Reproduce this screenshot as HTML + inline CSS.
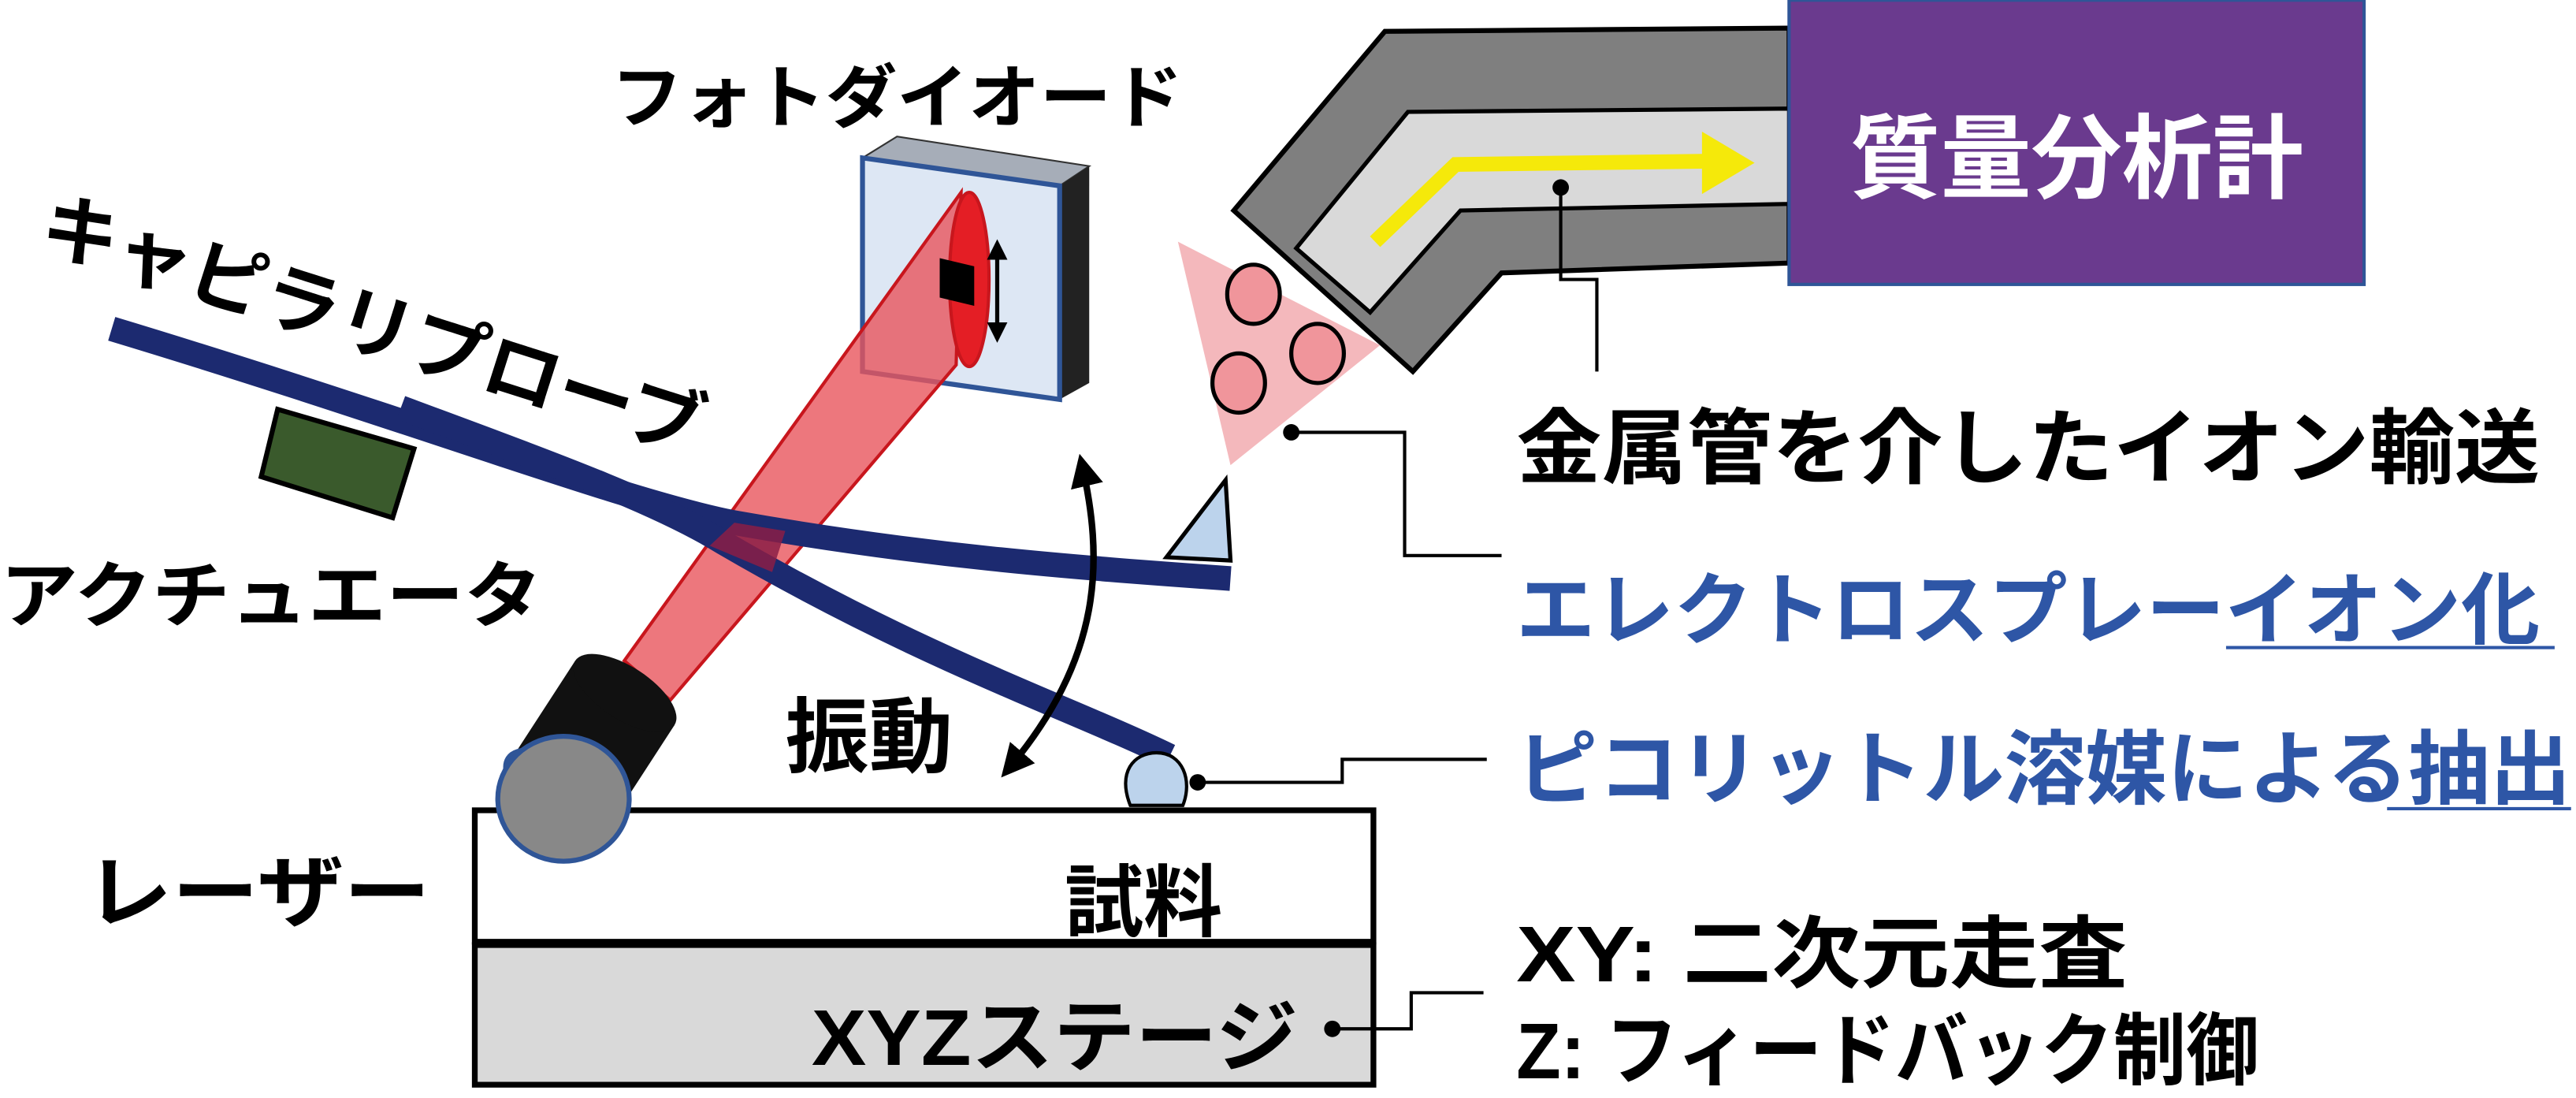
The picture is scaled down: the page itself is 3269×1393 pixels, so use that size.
<!DOCTYPE html>
<html><head><meta charset="utf-8"><style>
html,body{margin:0;padding:0;background:#fff;}
svg{display:block;}
text{font-family:"Liberation Sans","Noto Sans CJK JP",sans-serif;font-weight:bold;}
</style></head><body>
<svg width="3269" height="1393" viewBox="0 0 1568 668" xmlns="http://www.w3.org/2000/svg">
<defs>
<marker id="ah" viewBox="0 0 10 10" refX="8" refY="5" markerWidth="5" markerHeight="5" orient="auto-start-reverse"><path d="M0,0 L10,5 L0,10 z" fill="#000"/></marker>
</defs>
<!-- metal tube -->
<polygon points="843,19 1089,17 1089,160 914,166 860,226 751,128" fill="#7f7f7f" stroke="#000" stroke-width="3"/>
<polygon points="857,68 1089,66 1089,124 889,128 834,190 789,151" fill="#d9d9d9" stroke="#000" stroke-width="2.5"/>
<polyline points="837,147 886,100 1040,98" fill="none" stroke="#f5e90a" stroke-width="9"/>
<polygon points="1036,80 1068,99 1036,118" fill="#f5e90a"/>
<!-- mass spec -->
<rect x="1089" y="0" width="350" height="173" fill="#6a3a8e" stroke="#2f5597" stroke-width="2"/>
<text x="1264" y="116" font-size="56" fill="#fff" text-anchor="middle" textLength="276" lengthAdjust="spacingAndGlyphs">質量分析計</text>
<!-- plume -->
<polygon points="717,147 840,210 749,283" fill="#f4b8bc"/>
<ellipse cx="763" cy="179" rx="16" ry="18" fill="#f0959b" stroke="#000" stroke-width="2.5"/>
<ellipse cx="802" cy="215" rx="16" ry="18" fill="#f0959b" stroke="#000" stroke-width="2.5"/>
<ellipse cx="754" cy="233" rx="16" ry="18" fill="#f0959b" stroke="#000" stroke-width="2.5"/>
<!-- photodiode -->
<polygon points="525,96 546,83 663,101 645,113" fill="#a6adb8" stroke="#333" stroke-width="1"/>
<polygon points="645,113 663,101 663,233 645,243" fill="#222"/>
<polygon points="525,96 645,113 645,243 525,226" fill="#dde7f4" stroke="#2f5597" stroke-width="3"/>
<!-- beam -->
<polygon points="380,402 585,117 582,222 408,426" fill="#e8555c" fill-opacity="0.8" stroke="#c8161d" stroke-width="2"/>
<ellipse cx="590" cy="170" rx="12" ry="53" fill="#e41e25" stroke="#c8161d" stroke-width="2"/>
<polygon points="572,157 593,162 593,186 572,181" fill="#000"/>
<line x1="607" y1="148" x2="607" y2="206" stroke="#000" stroke-width="2.5" marker-start="url(#ah)" marker-end="url(#ah)"/>
<!-- actuator -->
<polygon points="169,249 252,273 239,315 159,290" fill="#3a5a2c" stroke="#000" stroke-width="3"/>
<!-- probes -->
<path d="M68,200 C250,255 380,305 447,318 C560,338 650,345 749,352" fill="none" stroke="#1c2a70" stroke-width="15"/>
<path d="M244,248 C330,280 400,305 440,330 C560,400 650,430 712,460" fill="none" stroke="#1c2a70" stroke-width="15"/>
<polygon points="447,318 478,323 470,348 432,332" fill="#8a1d45" fill-opacity="0.85"/>
<polygon points="710,339 746,292 749,341" fill="#bcd3ec" stroke="#000" stroke-width="2.5"/>
<!-- droplet -->
<path d="M688,490 C680,470 690,458 704,458 C720,458 726,475 720,490 z" fill="#bcd3ec" stroke="#000" stroke-width="2"/>
<!-- sample & stage -->
<rect x="289" y="493" width="547" height="80" fill="#fff" stroke="#000" stroke-width="3.5"/>
<rect x="289" y="575" width="547" height="85" fill="#d9d9d9" stroke="#000" stroke-width="3.5"/>
<text x="696" y="566" font-size="48" text-anchor="middle">試料</text>
<text x="642" y="648" font-size="48" text-anchor="middle" textLength="296" lengthAdjust="spacingAndGlyphs">XYZステージ</text>
<!-- laser -->
<g transform="rotate(33 358 456)">
<rect x="322" y="415" width="72" height="72" fill="#111"/>
<ellipse cx="358" cy="415" rx="36" ry="16" fill="#111"/>
<ellipse cx="358" cy="487" rx="38" ry="18" fill="#888" stroke="#2f5597" stroke-width="3"/>
</g>
<ellipse cx="343" cy="486" rx="40" ry="38" fill="#888" stroke="#2f5597" stroke-width="3"/>
<!-- vibration arrow -->
<path d="M658,280 C672,340 672,400 612,470" fill="none" stroke="#000" stroke-width="4" marker-start="url(#ah)" marker-end="url(#ah)"/>
<!-- labels -->
<text x="372" y="74" font-size="42" textLength="348" lengthAdjust="spacingAndGlyphs">フォトダイオード</text>
<text transform="translate(22,150) rotate(17.6)" font-size="46" textLength="420" lengthAdjust="spacingAndGlyphs">キャピラリプローブ</text>
<text x="0" y="378" font-size="44" textLength="330" lengthAdjust="spacingAndGlyphs">アクチュエータ</text>
<text x="478" y="466" font-size="50" textLength="102" lengthAdjust="spacingAndGlyphs">振動</text>
<text x="52" y="560" font-size="48" textLength="210" lengthAdjust="spacingAndGlyphs">レーザー</text>
<text x="923" y="290" font-size="50" textLength="623" lengthAdjust="spacingAndGlyphs">金属管を介したイオン輸送</text>
<text x="923" y="388" font-size="48" fill="#2e56a6" textLength="623" lengthAdjust="spacingAndGlyphs">エレクトロスプレーイオン化</text>
<line x1="1355" y1="394" x2="1555" y2="394" stroke="#2e56a6" stroke-width="2"/>
<text x="923" y="485" font-size="49" fill="#2e56a6" textLength="642" lengthAdjust="spacingAndGlyphs">ピコリットル溶媒による抽出</text>
<line x1="1453" y1="492" x2="1565" y2="492" stroke="#2e56a6" stroke-width="2"/>
<text x="923" y="597" font-size="48" textLength="372" lengthAdjust="spacingAndGlyphs">XY: 二次元走査</text>
<text x="923" y="656" font-size="48" textLength="452" lengthAdjust="spacingAndGlyphs">Z: フィードバック制御</text>
<!-- leaders -->
<g fill="none" stroke="#000" stroke-width="2">
<polyline points="950,114 950,170 972,170 972,226"/>
<polyline points="786,263 855,263 855,338 914,338"/>
<polyline points="729,476 817,476 817,462 905,462"/>
<polyline points="811,626 859,626 859,604 903,604"/>
</g>
<g fill="#000">
<circle cx="950" cy="114" r="5"/><circle cx="786" cy="263" r="5"/>
<circle cx="729" cy="476" r="5"/><circle cx="811" cy="626" r="5"/>
</g>
</svg>
</body></html>
